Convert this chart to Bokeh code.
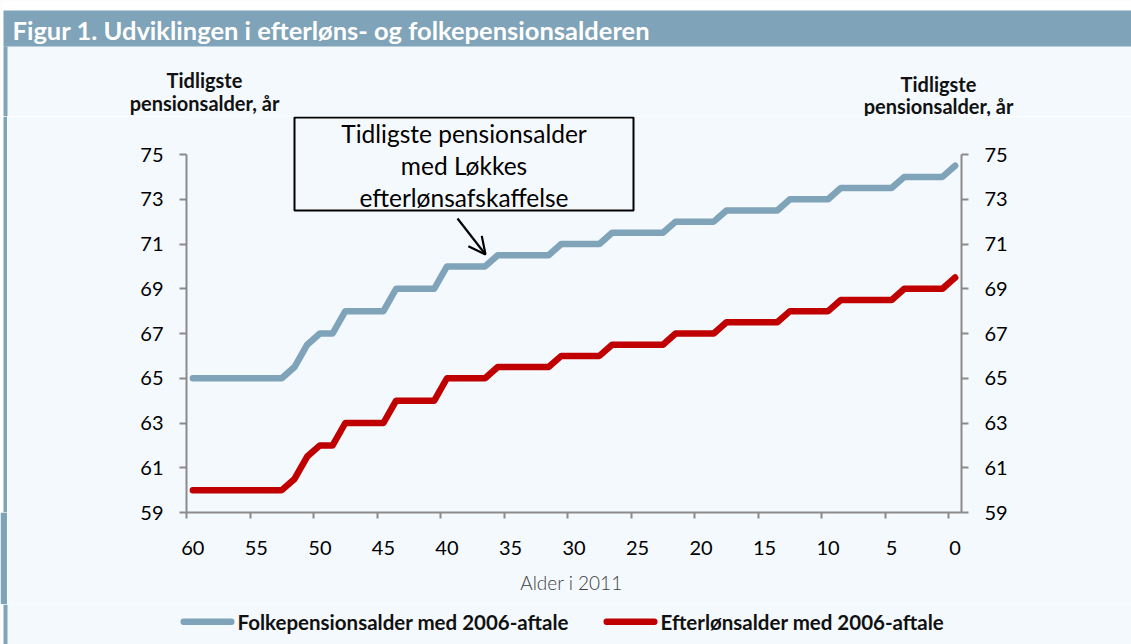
from bokeh.plotting import figure
from bokeh.layouts import column, row
from bokeh.models import (Range1d, LinearAxis, FixedTicker, BoxAnnotation, Label,
                          Arrow, OpenHead)
from bokeh.embed import file_html
from bokeh.resources import INLINE

# ---------------- data ----------------
ages = [60, 59, 58, 57, 56, 55, 54, 53, 52, 51, 50, 49, 48, 47, 46, 45, 44, 43, 42, 41,
        40, 39, 38, 37, 36, 35, 34, 33, 32, 31, 30, 29, 28, 27, 26, 25, 24, 23, 22, 21,
        20, 19, 18, 17, 16, 15, 14, 13, 12, 11, 10, 9, 8, 7, 6, 5, 4, 3, 2, 1, 0]
folkepension = [65, 65, 65, 65, 65, 65, 65, 65, 65.5, 66.5, 67, 67, 68, 68, 68, 68, 69, 69, 69, 69,
                70, 70, 70, 70, 70.5, 70.5, 70.5, 70.5, 70.5, 71, 71, 71, 71, 71.5, 71.5, 71.5, 71.5, 71.5, 72, 72,
                72, 72, 72.5, 72.5, 72.5, 72.5, 72.5, 73, 73, 73, 73, 73.5, 73.5, 73.5, 73.5, 73.5, 74, 74, 74, 74,
                74.5]
efterloen = [60, 60, 60, 60, 60, 60, 60, 60, 60.5, 61.5, 62, 62, 63, 63, 63, 63, 64, 64, 64, 64,
             65, 65, 65, 65, 65.5, 65.5, 65.5, 65.5, 65.5, 66, 66, 66, 66, 66.5, 66.5, 66.5, 66.5, 66.5, 67, 67,
             67, 67, 67.5, 67.5, 67.5, 67.5, 67.5, 68, 68, 68, 68, 68.5, 68.5, 68.5, 68.5, 68.5, 69, 69, 69, 69,
             69.5]
x_tick_labels = [60, 55, 50, 45, 40, 35, 30, 25, 20, 15, 10, 5, 0]
y_ticks = [59, 61, 63, 65, 67, 69, 71, 73, 75]
series_names = ["Folkepensionsalder med 2006-aftale", "Efterlønsalder med 2006-aftale"]
title_text = "Figur 1. Udviklingen i efterløns- og folkepensionsalderen"
axis_title = ["Tidligste", "pensionsalder, år"]
note_lines = ["Tidligste pensionsalder", "med Løkkes", "efterlønsafskaffelse"]

# ---------------- style ----------------
BG = "#F4F9FD"
BAR = "#7FA3B8"
BLUE = "#7FA3B8"
RED = "#C00000"
AXIS = "#8A8A8A"
FONT = "Lato"

PAGE_W, PAGE_H = 1131, 644
TOP_H = 116          # header strip height
LEG_TOP = 604        # legend strip starts here
STRIPE_W = 7
MAIN_W = PAGE_W - STRIPE_W
MAIN_H = LEG_TOP - TOP_H
LEG_H = PAGE_H - LEG_TOP

# main frame placement (page pixels)
F_LEFT, F_RIGHT = 186, 961
F_TOP, F_BOTTOM = TOP_H, 512
X0, X1 = 60.5, -0.5
Y0 = 59
PX_PER_Y = 358 / 16.0
Y_TOP = Y0 + (F_BOTTOM - F_TOP) / PX_PER_Y


def dx(page_x):
    return X0 + (page_x - F_LEFT) * (X1 - X0) / (F_RIGHT - F_LEFT)


def dy(page_y):
    return Y_TOP - (page_y - F_TOP) / PX_PER_Y


def bare(w, h, xr, yr, bg, border=None):
    f = figure(width=w, height=h, x_range=xr, y_range=yr, x_axis_type=None, y_axis_type=None,
               output_backend="svg", toolbar_location=None, min_border=0,
               min_border_left=0, min_border_right=0, min_border_top=0, min_border_bottom=0,
               background_fill_color=bg, border_fill_color=border or bg, outline_line_color=None)
    f.grid.visible = False
    return f


def solid_box(fig, **kw):
    fig.add_layout(BoxAnnotation(fill_alpha=1, line_color=None, **kw))


# ---------------- header ----------------
top = bare(PAGE_W, TOP_H, Range1d(0, PAGE_W), Range1d(TOP_H, 0), BG)
solid_box(top, left=0, right=PAGE_W, top=0, bottom=10, fill_color="white")
solid_box(top, left=0, right=3, top=10, bottom=TOP_H, fill_color="white")
solid_box(top, left=3, right=PAGE_W, top=10, bottom=46, fill_color=BAR)
solid_box(top, left=3, right=7, top=46, bottom=TOP_H, fill_color=BAR)
top.add_layout(Label(x=12, y=29, text=title_text, text_font=FONT, text_font_style="bold",
                     text_font_size="25.5px", text_color="white", text_align="left",
                     text_baseline="middle"))
for (cx, b1, b2) in [(204, 79, 102), (938, 83, 105)]:
    top.add_layout(Label(x=cx, y=b1, text=axis_title[0], text_font=FONT, text_font_style="bold",
                         text_font_size="20px", text_color="#111111", text_align="center",
                         text_baseline="alphabetic"))
    top.add_layout(Label(x=cx, y=b2, text=axis_title[1], text_font=FONT, text_font_style="bold",
                         text_font_size="20px", text_color="#111111", text_align="center",
                         text_baseline="alphabetic"))

# ---------------- left stripe (beside main chart) ----------------
stripe = bare(STRIPE_W, MAIN_H, Range1d(0, STRIPE_W), Range1d(0, 1), "white", border=BAR)
solid_box(stripe, left=3, right=7, fill_color=BAR)

# ---------------- main chart ----------------
p = figure(width=MAIN_W, height=MAIN_H, x_range=Range1d(X0, X1), y_range=Range1d(Y0, Y_TOP),
           output_backend="svg", toolbar_location=None,
           min_border_left=F_LEFT - STRIPE_W, min_border_right=PAGE_W - F_RIGHT,
           min_border_top=0, min_border_bottom=MAIN_H - (F_BOTTOM - F_TOP),
           background_fill_color=BG, border_fill_color=BG, outline_line_color=None)
p.grid.visible = False

xa = p.xaxis[0]
xa.ticker = FixedTicker(ticks=x_tick_labels, minor_ticks=[t + 0.5 for t in x_tick_labels])
xa.major_tick_line_color = None
xa.minor_tick_line_color = AXIS
xa.minor_tick_line_width = 2
xa.minor_tick_out = 6
xa.minor_tick_in = 0
xa.axis_line_color = AXIS
xa.axis_line_width = 2
xa.major_label_text_font = FONT
xa.major_label_text_font_size = "20px"
xa.major_label_text_color = "#000000"
xa.major_label_standoff = 22
xa.axis_label = "Alder i  2011"
xa.axis_label_text_font = "Lato Light"
xa.axis_label_text_font_style = "normal"
xa.axis_label_text_font_size = "19px"
xa.axis_label_text_color = "#404040"
xa.axis_label_standoff = 13


def style_y(ax):
    ax.ticker = FixedTicker(ticks=y_ticks, minor_ticks=[])
    ax.bounds = (y_ticks[0], y_ticks[-1])
    ax.axis_line_color = AXIS
    ax.axis_line_width = 2
    ax.major_tick_line_color = AXIS
    ax.major_tick_line_width = 2
    ax.major_tick_out = 7
    ax.major_tick_in = 0
    ax.minor_tick_line_color = None
    ax.major_label_text_font = FONT
    ax.major_label_text_font_size = "20px"
    ax.major_label_text_color = "#000000"
    ax.major_label_standoff = 16


style_y(p.yaxis[0])
ry = LinearAxis()
style_y(ry)
p.add_layout(ry, "right")

p.line(ages, folkepension, line_color=BLUE, line_width=6.5, line_join="round", line_cap="round")
p.line(ages, efterloen, line_color=RED, line_width=6.5, line_join="round", line_cap="round")

# note box with arrow
p.add_layout(BoxAnnotation(left=dx(294), right=dx(633), top=dy(117), bottom=dy(210),
                           fill_color=BG, fill_alpha=1, line_color="black", line_alpha=1,
                           line_width=2))
for txt, yy in zip(note_lines, [133, 165, 197]):
    p.add_layout(Label(x=dx(463.5), y=dy(yy), text=txt, text_font=FONT, text_font_size="24.5px",
                       text_color="black", text_align="center", text_baseline="middle"))
p.add_layout(Arrow(end=OpenHead(size=17, line_width=2.2, line_color="black"),
                   x_start=dx(457), y_start=dy(218), x_end=dx(485), y_end=dy(254),
                   line_width=2.2, line_color="black"))

# ---------------- legend strip (full width) ----------------
leg = bare(PAGE_W, LEG_H, Range1d(0, PAGE_W), Range1d(PAGE_H, LEG_TOP), BG)
solid_box(leg, left=0, right=3, fill_color="white")
solid_box(leg, left=3, right=7, fill_color=BAR)
for (x_a, x_b, col, name) in [(180, 234, BLUE, series_names[0]), (603, 657, RED, series_names[1])]:
    leg.add_layout(BoxAnnotation(left=x_a, right=x_b, top=618, bottom=624.5,
                                 fill_color=col, fill_alpha=1, line_color=None, border_radius=3))
    leg.add_layout(Label(x=x_b + 3, y=621, text=name, text_font=FONT, text_font_style="bold",
                         text_font_size="20.5px", text_color="#111111",
                         text_align="left", text_baseline="middle"))

layout = column(top, row(stripe, p, spacing=0), leg, spacing=0)
open("out.html", "w").write(file_html(layout, INLINE))
